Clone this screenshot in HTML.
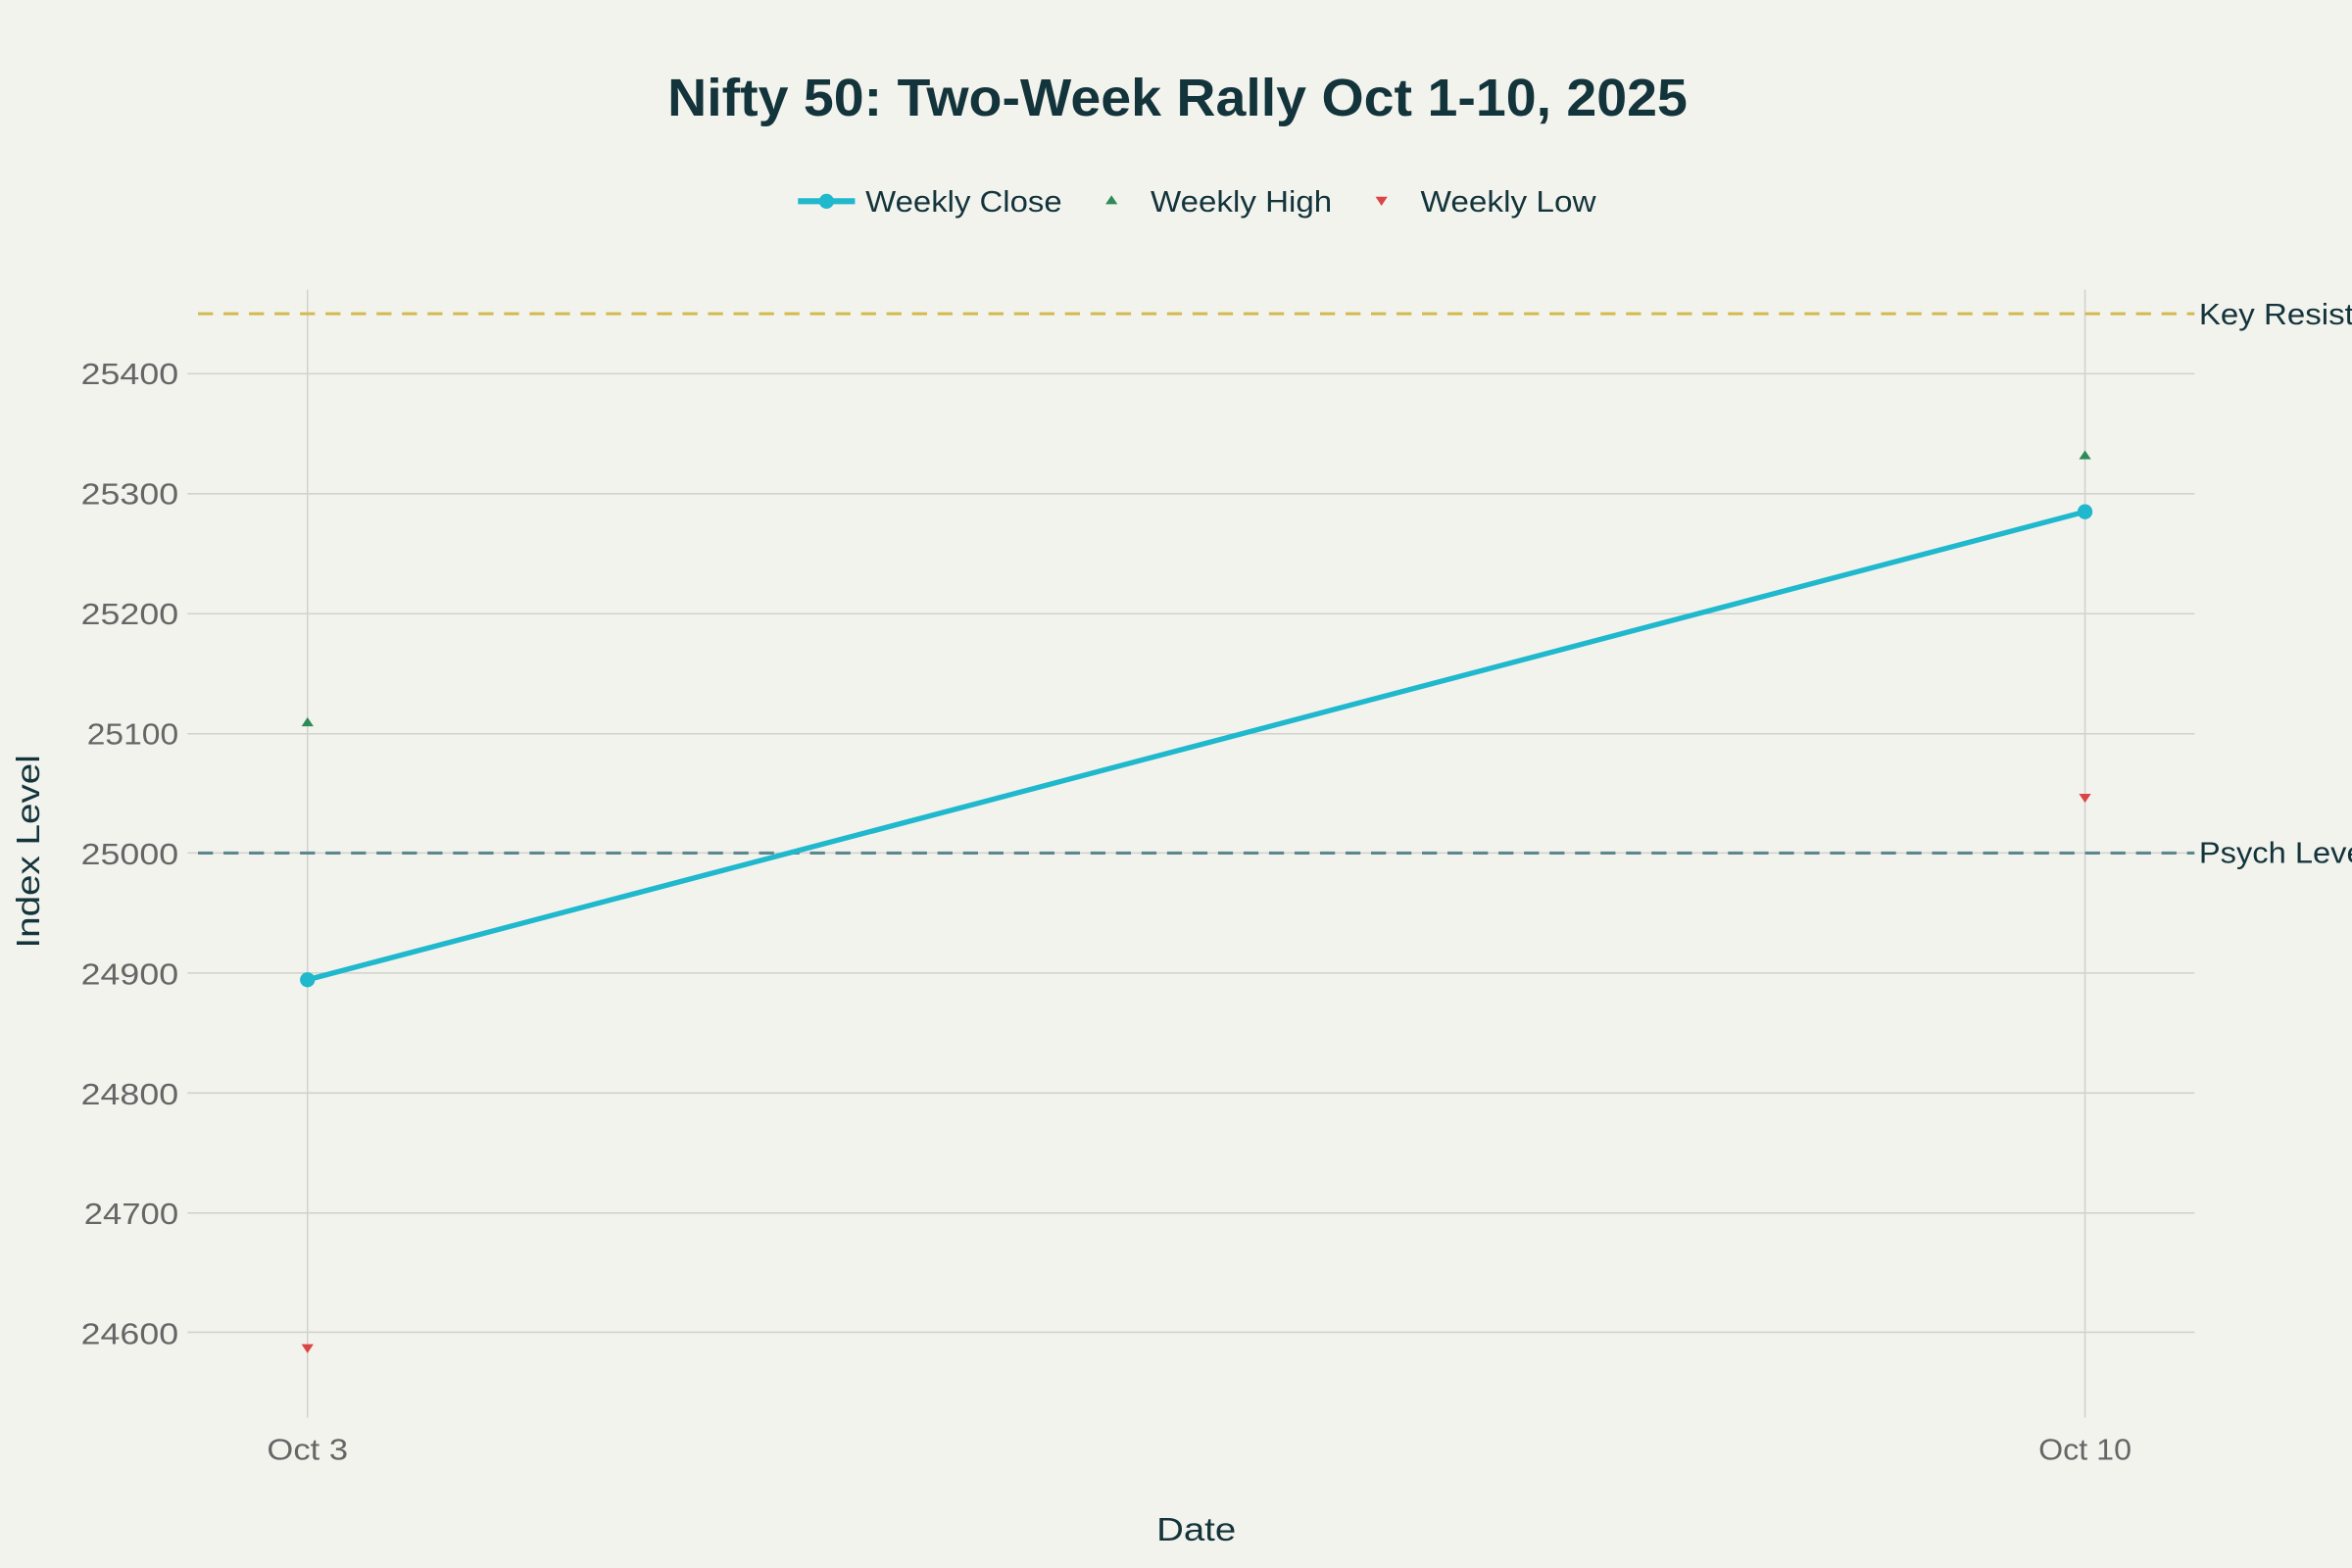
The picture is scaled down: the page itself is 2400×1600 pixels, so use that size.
<!DOCTYPE html>
<html><head><meta charset="utf-8"><style>
html,body{margin:0;padding:0;background:#f3f3ee;}
svg{display:block;font-family:"Liberation Sans",sans-serif;}
</style></head><body>
<svg width="2400" height="1600" viewBox="0 0 1568 1045" xmlns="http://www.w3.org/2000/svg">
<rect width="1568" height="1045" fill="#f3f3ee"/>
<text x="445" y="77" font-size="35" font-weight="bold" fill="#13343b" textLength="680" lengthAdjust="spacingAndGlyphs">Nifty 50: Two-Week Rally Oct 1-10, 2025</text>
<!-- legend -->
<line x1="532" y1="134" x2="570" y2="134" stroke="#1fb8cd" stroke-width="4"/>
<circle cx="551" cy="134" r="5" fill="#1fb8cd"/>
<text x="577" y="141" font-size="20" fill="#13343b" textLength="131" lengthAdjust="spacingAndGlyphs">Weekly Close</text>
<polygon points="741,130 745,136 737,136" fill="#2e8b57"/>
<text x="767" y="141" font-size="20" fill="#13343b" textLength="121" lengthAdjust="spacingAndGlyphs">Weekly High</text>
<polygon points="917,131 925,131 921,137" fill="#db4545"/>
<text x="947" y="141" font-size="20" fill="#13343b" textLength="117" lengthAdjust="spacingAndGlyphs">Weekly Low</text>
<!-- grid -->
<g stroke="#d2d2cc" stroke-width="1">
<line x1="125" x2="1463" y1="249" y2="249"/>
<line x1="125" x2="1463" y1="329" y2="329"/>
<line x1="125" x2="1463" y1="409" y2="409"/>
<line x1="125" x2="1463" y1="489" y2="489"/>
<line x1="125" x2="1463" y1="568.5" y2="568.5"/>
<line x1="125" x2="1463" y1="648.5" y2="648.5"/>
<line x1="125" x2="1463" y1="728.5" y2="728.5"/>
<line x1="125" x2="1463" y1="808.5" y2="808.5"/>
<line x1="125" x2="1463" y1="888" y2="888"/>
<line x1="205" x2="205" y1="193" y2="945"/>
<line x1="1390" x2="1390" y1="193" y2="945"/>
</g>
<!-- ref lines -->
<line x1="132" x2="1463" y1="209" y2="209" stroke="#d2ba4c" stroke-width="2" stroke-dasharray="10,7"/>
<line x1="132" x2="1463" y1="568.5" y2="568.5" stroke="#5d878f" stroke-width="2" stroke-dasharray="10,7"/>
<text x="1466" y="216" font-size="20" fill="#13343b" textLength="150" lengthAdjust="spacingAndGlyphs">Key Resistance</text>
<text x="1466" y="575" font-size="20" fill="#13343b" textLength="115" lengthAdjust="spacingAndGlyphs">Psych Level</text>
<g font-size="20" fill="#666">
<text x="54" y="256" textLength="65" lengthAdjust="spacingAndGlyphs">25400</text>
<text x="54" y="336" textLength="65" lengthAdjust="spacingAndGlyphs">25300</text>
<text x="54" y="416" textLength="65" lengthAdjust="spacingAndGlyphs">25200</text>
<text x="58" y="496" textLength="61" lengthAdjust="spacingAndGlyphs">25100</text>
<text x="54" y="576" textLength="65" lengthAdjust="spacingAndGlyphs">25000</text>
<text x="54" y="656" textLength="65" lengthAdjust="spacingAndGlyphs">24900</text>
<text x="54" y="736" textLength="65" lengthAdjust="spacingAndGlyphs">24800</text>
<text x="56" y="816" textLength="63" lengthAdjust="spacingAndGlyphs">24700</text>
<text x="54" y="896" textLength="65" lengthAdjust="spacingAndGlyphs">24600</text>
</g>
<g font-size="20" fill="#666">
<text x="178" y="973" textLength="54" lengthAdjust="spacingAndGlyphs">Oct 3</text>
<text x="1359" y="973" textLength="62" lengthAdjust="spacingAndGlyphs">Oct 10</text>
</g>
<text x="771" y="1027" font-size="22" fill="#13343b" textLength="53" lengthAdjust="spacingAndGlyphs">Date</text>
<text transform="translate(26,632) rotate(-90)" font-size="22" fill="#13343b" textLength="129" lengthAdjust="spacingAndGlyphs">Index Level</text>
<!-- data -->
<line x1="205" y1="653" x2="1390" y2="341" stroke="#1fb8cd" stroke-width="3.5"/>
<circle cx="205" cy="653" r="5" fill="#1fb8cd"/>
<circle cx="1390" cy="341" r="5" fill="#1fb8cd"/>
<polygon points="205,478 209,484 201,484" fill="#2e8b57"/>
<polygon points="1390,300 1394,306 1386,306" fill="#2e8b57"/>
<polygon points="201,896 209,896 205,902" fill="#db4545"/>
<polygon points="1386,529 1394,529 1390,535" fill="#db4545"/>
</svg>
</body></html>
